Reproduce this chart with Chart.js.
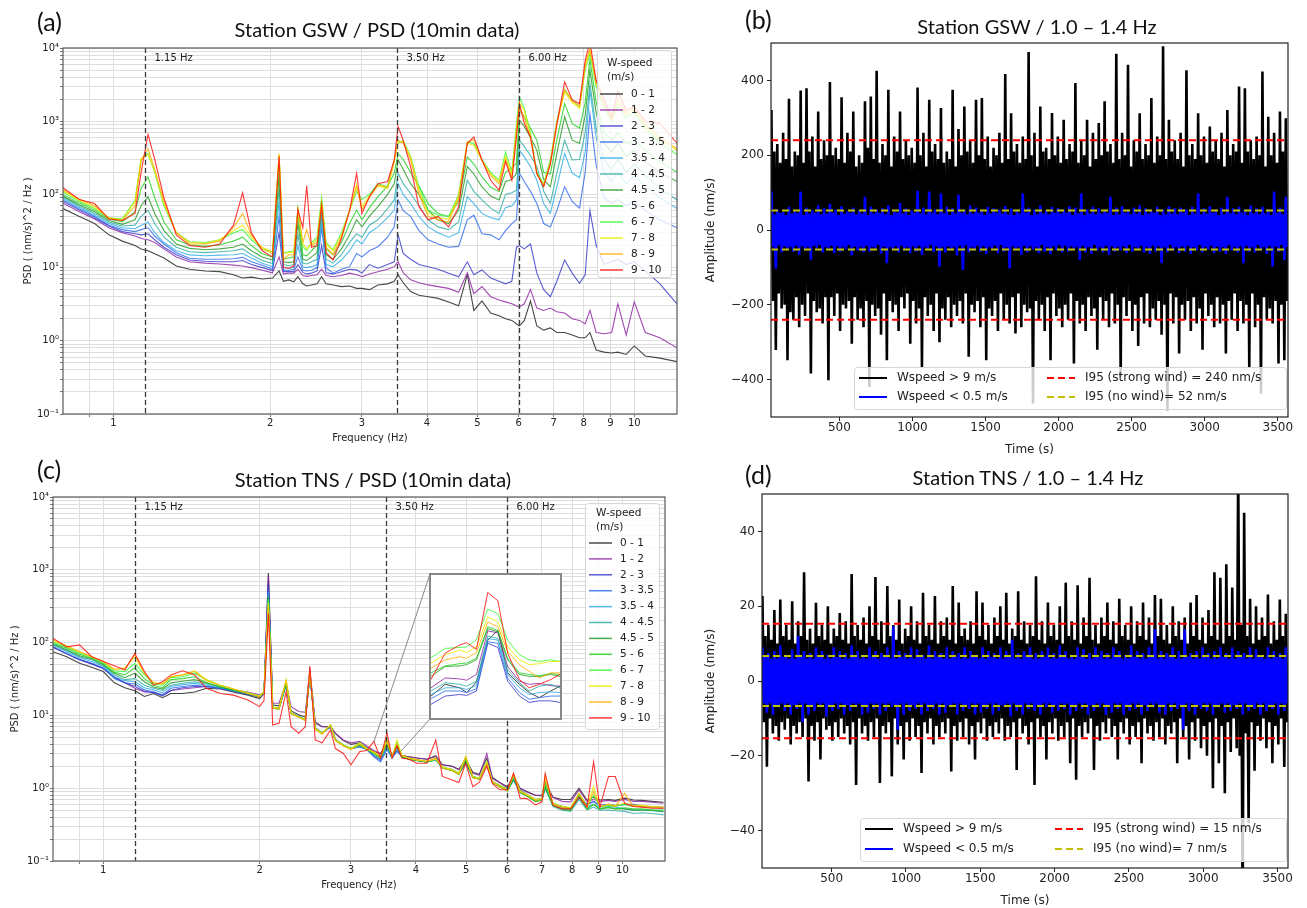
<!DOCTYPE html>
<html>
<head>
<meta charset="utf-8">
<script src="https://cdn.jsdelivr.net/npm/chart.js@4.4.1/dist/chart.umd.min.js"></script>
<style>
  body { margin: 0; background: #fff; width: 1307px; height: 908px; position: relative; overflow: hidden; }
  canvas.c { position: absolute; }
  .lbl { position: absolute; font-family: Lato, "Open Sans", sans-serif; color: #111; white-space: nowrap; line-height: 1; }
  .ttl { transform: translateX(-50%); font-size: 20px; }
  .pan { font-size: 25px; }
  #insetBox { position: absolute; left: 429px; top: 573px; width: 133px; height: 147px; box-sizing: border-box; border: 2px solid #888; background: #fff; }
</style>
</head>
<body>
<canvas id="ca" class="c" style="left:0;top:0" width="690" height="448"></canvas>
<canvas id="cb" class="c" style="left:680px;top:0" width="627" height="461"></canvas>
<canvas id="cc" class="c" style="left:0;top:450px" width="690" height="445"></canvas>
<canvas id="cd" class="c" style="left:680px;top:450px" width="627" height="462"></canvas>
<div id="insetBox"><canvas id="ci" width="129" height="143"></canvas></div>

<div class="lbl pan" style="left:37px;top:9px">(a)</div>
<div class="lbl ttl" style="left:377px;top:19px">Station GSW / PSD (10min data)</div>
<div class="lbl pan" style="left:745px;top:7px">(b)</div>
<div class="lbl ttl" style="left:1037px;top:16px">Station GSW / 1.0 – 1.4 Hz</div>
<div class="lbl pan" style="left:37px;top:457px">(c)</div>
<div class="lbl ttl" style="left:373px;top:469px">Station TNS / PSD (10min data)</div>
<div class="lbl pan" style="left:745px;top:462px">(d)</div>
<div class="lbl ttl" style="left:1028px;top:467px">Station TNS / 1.0 – 1.4 Hz</div>

<script>
// wind-speed classes (m/s) and their colours
const windBins = ['0 - 1', '1 - 2', '2 - 3', '3 - 3.5', '3.5 - 4', '4 - 4.5', '4.5 - 5', '5 - 6', '6 - 7', '7 - 8', '8 - 9', '9 - 10'];
const binColors = ['rgba(40,40,40,0.85)', 'rgba(140,30,160,0.8)', 'rgba(50,50,200,0.8)', 'rgba(40,100,235,0.8)',
  'rgba(40,170,230,0.8)', 'rgba(40,170,160,0.8)', 'rgba(30,150,30,0.8)', 'rgba(40,210,40,0.85)',
  'rgba(60,250,60,0.85)', 'rgba(235,235,0,0.85)', 'rgba(255,175,0,0.85)', 'rgba(255,20,20,0.85)'];

const markerFreqs = [1.15, 3.5, 6.0];
const markerLabels = ['1.15 Hz', '3.50 Hz', '6.00 Hz'];
const freqTicks = [0.9, 1, 2, 3, 4, 5, 6, 7, 8, 9, 10];
const freqLabels = [1, 2, 3, 4, 5, 6, 7, 8, 9, 10];
const freqRange = [0.8, 12.08];
const psdRange = [0.1, 10000];

// ---- station GSW, PSD per wind class
const freqGSW = [0.80,0.86,0.92,0.98,1.04,1.10,1.13,1.165,1.20,1.25,1.32,1.40,1.50,1.60,1.70,1.77,1.84,1.93,2.02,2.08,2.12,2.17,2.22,2.26,2.31,2.35,2.40,2.46,2.51,2.56,2.64,2.74,2.84,2.93,3.00,3.10,3.22,3.36,3.46,3.52,3.60,3.72,3.86,4.02,4.20,4.40,4.60,4.78,4.92,5.10,5.30,5.50,5.66,5.82,5.94,6.02,6.15,6.32,6.50,6.70,6.90,7.10,7.35,7.60,7.85,8.05,8.22,8.45,8.75,9.05,9.30,9.65,10.0,10.5,11.2,12.08];
const gsw0 = [64,50,40,28,23,20,18,17,15.5,13.5, 10.5,9.5,9.0,8.8,8.0,7.2,7.4,7.0,7.2, 9,6.5,6.8,6.4,7.5,6.0,5.6,5.8,6.0,7.5,6.0, 5.8,5.5,5.6,5.2,5.2,5.0,5.8,6.0,6.5,8.0, 6.2,4.7,4.2,4.0,3.8,3.4,3.0,8.0,2.6,3.5,2.4,2.2,2.0,1.9,1.7,1.6, 1.9,3.5,1.6,1.4,1.5,1.3,1.3,1.2,1.1,1.1,1.3, 0.75,0.7,0.68,0.7,0.65,0.85,0.62,0.58,0.52];
const gsw1 = [76,58,46,35,30,27,25,24,22,18, 14,12,11.5,11.2,10.8,10.5,10,9.2,8.5, 14,8.2,8.4,8.4,9.5,7.8,7.6,7.8,8.0,9.5,7.8, 7.5,7.8,8.4,8.0,7.5,8.2,8.8,9.5,10.3,12, 8.5,6.8,6.2,5.8,5.5,5.2,4.6,8.5,4.4,5.5,4.0,3.6,3.4,3.2,3.0,2.9, 3.2,5.0,2.8,2.6,2.8,2.5,2.4,2.0,1.9,1.7,2.6, 1.3,1.25,1.3,3.2,1.2,3.4,1.3,1.1,0.8];
const gsw2 = [80,61,48,37,31,29,28,29,24,19, 15,12.7,12.2,12,12,12.5,11,10,9.1, 30,8.8,8.8,8.8,11,8.6,8.2,8.4,9.0,20,8.5, 8.2,8.8,9.5,9.3,8.4,11,9.8,11,12,28, 15.6,13,11,10.3,9.5,8.4,7.5,12,8.0,9.3,7.2,6.5,6.0,6.5,19,20, 18,21,8.4,5.0,4.0,6.5,12.7,8.4,6.1,8.0,60, 20,11,12,13,11,12,9,6,3.2];
const gsw3 = [84,63,50,38,33,31,33,35,27,21, 16,13.4,13,13,13.2,13.8,12,10.8,9.5, 50,9.2,9.2,9.5,14,9.2,9.0,9.2,10,35,10, 8.4,9.5,10.3,15.6,14,17,19.3,26,36,84, 60,50,32,24,21,19,19.5,45,52,29,28,24,32,40,45,194, 150,110,75,40,36,60,127,80,65,200,1260, 250,90,75,85,70,80,60,45,35];
const gsw4 = [88,66,52,40,35,34,38,42,30,22, 17,14.9,14.5,14.8,15,15.6,13.5,11.5,10.3, 80,10,9.8,10,20,10.2,10,10.3,11,45,11, 10.3,12.7,17,24,21,30,36,48,61,140, 100,75,50,36,30,26,30,93,75,55,48,45,66,70,84,400, 325,240,156,75,55,127,360,195,170,380,2650, 600,200,150,200,140,180,130,90,64];
const gsw5 = [92,69,55,42,37,38,50,61,40,26, 19,16.5,16,16.5,17,18,15,12.5,11.4, 120,11,10.6,11,28,11.5,11.2,12,13,55,13, 11.5,15,22,29,26,38,45,64,84,194, 140,103,70,45,36,33,42,156,110,84,65,55,100,105,114,550, 450,340,240,110,75,194,550,295,300,700,3250, 800,300,220,300,200,260,180,120,84];
const gsw6 = [95,72,58,44,39,45,70,93,55,32, 21,18.3,17.5,18,19,21,17,14,12.7, 180,12,11.7,12,40,13,12.5,14,16,70,15, 13,18,28,45,36,50,68,100,140,295, 220,140,100,61,45,40,60,240,190,127,95,84,150,160,194,1030, 840,600,400,160,127,360,1150,550,500,1200,5000, 1300,500,380,500,330,400,280,200,150];
const gsw7 = [100,76,61,46,42,58,120,174,90,42, 24,20.4,19.5,20.5,23,26,20,15.5,14, 250,13,13.5,14,55,15,14.5,17,20,85,18, 15,22,40,61,45,65,93,130,194,360, 300,200,130,75,55,50,80,325,260,173,125,110,200,230,265,1410, 1150,800,550,200,190,550,1740,930,800,1800,7100, 1800,700,550,700,500,550,400,280,200];
const gsw8 = [108,80,64,48,46,84,300,363,200,70, 30,22.6,22,24,30,33,24,18,16.5, 340,16,16.5,17,65,19,17,22,26,90,22, 17.5,30,60,110,85,100,140,127,295,500, 550,330,127,61,52,50,100,520,500,300,200,156,380,200,900,2150, 1500,700,200,140,300,1000,2700,1950,1580,5000,8500, 3000,1500,1000,1600,1100,1300,800,500,350];
const gsw9 = [112,83,66,48,45,80,310,350,210,75, 30,22,21.5,24,32,38,26,19,16.5, 360,15.5,16,16.5,60,21,18,21,24,80,21, 17,28,60,140,68,95,130,120,280,520, 530,320,115,55,48,46,95,500,470,290,190,150,330,190,800,1800, 1400,650,190,135,280,950,2500,1800,1500,5500,9000, 3300,1600,1050,1800,1200,1400,850,550,400];
const gsw10 = [116,86,70,47,44,70,290,420,220,80, 30,21,21,23,35,55,28,18,15.6, 350,13,15,15,62,22,33,20,22,75,19, 15,26,60,127,62,90,135,125,290,550, 500,300,100,50,45,42,90,520,560,290,180,140,300,170,700,1600, 1100,600,190,130,260,900,2700,1900,1600,6000,9800, 3400,1700,1100,2000,1300,1500,900,600,420];
const gsw11 = [123,85,75,46,44,55,200,660,300,90, 28,20,19,21,38,105,30,17,14, 330,10,9.8,10.5,62,35,131,19,20,70,16, 12.7,25,60,193,55,93,140,150,295,850, 550,240,68,45,50,36,68,500,610,295,156,114,280,156,600,1740, 930,610,193,127,260,900,3450,1950,1740,6800,12000, 3600,2000,1130,2600,1400,1580,1000,930,500];

// ---- station TNS, PSD per wind class
const freqTNS = [0.80,0.85,0.90,0.95,1.00,1.05,1.10,1.15,1.20,1.25,1.30,1.35,1.42,1.50,1.58,1.68,1.78,1.90,2.00,2.04,2.08,2.12,2.18,2.25,2.30,2.38,2.45,2.50,2.56,2.64,2.74,2.80,2.90,3.00,3.12,3.22,3.32,3.42,3.52,3.60,3.68,3.76,3.88,4.02,4.20,4.37,4.50,4.70,4.84,4.99,5.15,5.30,5.48,5.62,5.80,6.01,6.17,6.35,6.55,6.80,7.00,7.10,7.35,7.65,7.95,8.25,8.55,8.80,9.05,9.40,9.69,10.1,10.5,10.9,11.4,12.0];
const tns0 = [75,64,52,46,40,28,24,21.8,18.2,20,17.5,20,20,21,23.6,23,21,19,17, 20,900,13.9,13.5,27,11.5,10.2,9.5,40,7.8,7.0,7.0,5.6,4.5,4.0,4.2,3.6,3.2,3.0,4.2,2.8,4.0,2.8, 2.7,2.6,2.5,2.8,2.1,2.0,1.8,2.5,1.65,1.55,2.6,1.4,1.2,1.05,1.5,1.0,0.9,0.8,0.8,1.2,0.75,0.7,0.7,1.0,0.68,0.75,0.69,0.7,0.68,0.73,0.69,0.68,0.66,0.64];
const tns1 = [88,70,58,51,44,34,28,23.6,21,21,19,22,23,24,25,24,22.5,21,19, 21,850,14.7,14.7,28,13.2,11.3,11,42,8.2,7.0,7.0,5.7,4.6,4.2,4.4,3.8,3.3,3.0,4.0,2.8,3.9,2.8, 2.7,2.6,2.5,2.7,2.1,2.0,1.8,2.4,1.6,1.5,3.0,1.35,1.2,1.0,1.4,1.0,0.88,0.8,0.78,1.1,0.75,0.66,0.65,0.95,0.66,0.7,0.66,0.68,0.66,0.7,0.66,0.66,0.64,0.62];
const tns2 = [86,70,58,51,44,33,28,25,21.5,20.5,18.5,22,24,25,25,23.5,21.5,19.5,18, 20,650,13,12.5,26,10.8,9.8,8.8,36,6.8,5.8,6.8,4.7,3.9,3.5,3.7,3.4,2.8,2.4,3.5,2.6,3.3,2.7, 2.5,2.45,2.3,2.5,1.9,1.8,1.6,2.2,1.45,1.35,2.2,1.23,1.1,0.95,1.3,0.95,0.82,0.7,0.72,1.0,0.62,0.56,0.53,0.8,0.6,0.66,0.58,0.6,0.58,0.6,0.6,0.57,0.56,0.55];
const tns3 = [87,71,59,52,45,32,28,27,22.4,21,19,23.6,25,26,25,23.5,21.5,19.5,18, 20,550,12.8,12.5,26,10.7,9.6,8.7,35,6.6,5.7,7.0,4.6,3.9,3.5,3.7,3.4,2.7,2.3,3.4,2.6,3.2,2.7, 2.5,2.4,2.3,2.45,1.9,1.8,1.6,2.2,1.45,1.37,2.2,1.23,1.1,0.95,1.3,0.95,0.8,0.69,0.72,1.0,0.62,0.56,0.53,0.75,0.6,0.65,0.58,0.6,0.58,0.6,0.58,0.56,0.55,0.53];
const tns4 = [92,75,62,55,47,34,30,29,24,22.4,20.5,25,26.5,27.5,26,24,22,20,18.2, 20.5,500,12.8,12.5,27,10.7,9.6,8.7,36,6.6,5.7,7.2,4.6,3.9,3.5,3.7,3.4,2.9,2.5,3.6,2.6,3.5,2.7, 2.5,2.4,2.3,2.45,1.9,1.8,1.6,2.3,1.45,1.37,2.2,1.23,1.1,0.95,1.3,0.9,0.8,0.68,0.7,1.0,0.6,0.54,0.52,0.75,0.56,0.6,0.55,0.56,0.55,0.52,0.5,0.5,0.49,0.47];
const tns5 = [93,78,64,58,48,36,31,32,26,23.6,22,26,27.6,29,27,24.5,22,20,18.2, 20.5,450,12.5,12.3,27,10.7,9.6,8.7,36,6.6,5.7,7.2,4.6,3.9,3.5,3.8,3.4,3.0,2.6,3.8,2.7,3.6,2.7, 2.5,2.4,2.3,2.45,1.9,1.75,1.55,2.3,1.4,1.33,2.2,1.2,1.05,0.92,1.3,0.88,0.78,0.66,0.68,1.0,0.56,0.5,0.48,0.7,0.5,0.55,0.5,0.5,0.49,0.48,0.45,0.46,0.45,0.43];
const tns6 = [96,80,66,60,50,38,33,38,29,24.5,23,28,29.5,31,28,24.5,22,20,18.2, 20.5,420,12.5,12.3,27,10.7,9.6,8.7,37,6.6,5.7,7.3,4.6,3.9,3.5,3.9,3.4,3.0,2.6,4.0,2.7,3.7,2.7, 2.5,2.4,2.3,2.5,1.9,1.75,1.55,2.3,1.4,1.33,2.2,1.2,1.05,0.92,1.35,0.88,0.78,0.66,0.7,1.05,0.58,0.52,0.5,0.75,0.52,0.6,0.52,0.54,0.52,0.52,0.5,0.5,0.5,0.48];
const tns7 = [98,84,69,61,51,39,36,45,32,26,24,31,32,34,28,25,22.5,20,18.2, 21,400,12.5,12.3,28,10.7,9.6,8.7,38,6.6,5.7,7.4,4.6,3.9,3.5,4.0,3.4,3.0,2.6,4.3,2.7,3.9,2.7, 2.5,2.4,2.3,2.5,1.9,1.75,1.55,2.5,1.4,1.33,2.2,1.2,1.05,0.92,1.4,0.88,0.78,0.66,0.7,1.1,0.58,0.52,0.5,0.8,0.52,0.6,0.52,0.55,0.52,0.54,0.52,0.52,0.5,0.5];
const tns8 = [103,87,72,63,53,41,40,52,36,27.5,26,33,34,38,31,26,23,20.5,18.5, 21,380,13,12.5,30,10.7,9.6,8.7,39,6.6,5.7,7.4,4.6,3.9,3.5,4.2,3.5,3.1,2.7,4.9,2.7,4.3,2.8, 2.6,2.45,2.35,2.5,1.95,1.8,1.6,2.7,1.45,1.37,2.3,1.23,1.1,0.95,1.45,0.92,0.82,0.7,0.72,1.2,0.62,0.56,0.54,0.85,0.56,0.8,0.56,0.58,0.56,0.6,0.56,0.56,0.55,0.54];
const tns9 = [107,90,75,64,55,42,45,63,38,28,27,34,36,41,31,26,23,20.5,18.5, 21,350,13,12.5,31,10.7,9.6,8.7,40,6.6,5.7,7.4,4.6,3.9,3.5,4.2,3.5,3.1,2.7,4.6,2.7,4.6,2.8, 2.6,2.45,2.35,2.5,1.95,1.8,1.6,2.7,1.45,1.37,2.3,1.23,1.1,0.95,1.5,0.92,0.82,0.7,0.72,1.5,0.62,0.56,0.54,0.85,0.56,1.05,0.56,0.6,0.58,0.62,0.58,0.58,0.56,0.55];
const tns10 = [110,90,75,64,55,43,44,68,38,28,27,34,36,40,30,26,23,20,18, 21,320,12.5,12.3,30,10.5,9.4,8.5,40,6.4,5.5,7.3,4.5,3.8,3.4,4.0,3.4,3.2,2.7,4.4,2.7,4.0,2.8, 2.6,2.45,2.35,2.6,1.9,1.75,1.55,2.7,1.4,1.33,2.2,1.2,1.05,0.92,1.6,0.9,0.8,0.68,0.7,1.3,0.6,0.55,0.53,0.85,0.55,0.9,0.55,0.6,0.56,0.85,0.56,0.56,0.55,0.54];
const tns11 = [115,87,93,64,55,48,42,71,40,26,29,36,41,36,23.6,20,19,16.3,13.2, 16,250,7.4,7.8,21,7.0,5.7,7.0,47,4.6,4.2,6.3,3.5,3.0,2.1,3.2,3.3,4.4,2.6,5.8,2.6,3.8,2.6, 2.5,2.2,2.2,4.6,1.45,1.3,1.2,2.2,1.05,1.2,2.0,1.15,0.95,0.95,1.6,0.73,0.72,0.59,0.65,1.6,0.58,0.52,0.52,0.75,0.55,2.3,0.55,1.45,1.45,0.62,0.56,0.55,0.53,0.53];

// ---- TNS inset around the 3.5 Hz peak
const insetFreq = [3.402,3.437,3.473,3.490,3.514,3.542,3.567,3.591,3.620,3.644,3.669,3.697,3.720];
const insetRange = [2.2, 6.7];
const inset0 = [2.89,3.26,3.15,3.00,3.33,4.65,4.96,3.62,3.26,3.00,2.84,3.05,3.20];
const inset1 = [3.15,3.46,3.43,3.39,3.57,4.94,4.88,3.82,3.36,3.26,3.29,3.22,3.20];
const inset2 = [2.63,2.89,2.94,2.91,3.05,4.55,4.42,3.36,2.89,2.69,2.74,2.74,2.69];
const inset3 = [2.81,3.05,3.05,3.00,3.12,4.60,4.55,3.46,3.00,2.79,2.84,2.89,2.89];
const inset4 = [2.94,3.15,3.15,3.10,3.22,4.70,4.65,3.57,3.15,2.94,3.00,3.02,3.00];
const inset5 = [3.05,3.31,3.26,3.20,3.36,4.78,4.70,3.72,3.31,3.05,3.20,3.26,3.15];
const inset6 = [3.51,3.82,3.84,3.88,4.03,5.01,4.91,4.03,3.57,3.51,3.51,3.57,3.51];
const inset7 = [3.62,3.84,3.91,3.93,4.08,5.07,4.96,4.08,3.62,3.57,3.53,3.60,3.57];
const inset8 = [4.10,4.39,4.42,4.44,4.67,5.63,5.48,4.65,4.19,4.03,3.98,4.03,3.98];
const inset9 = [3.93,4.19,4.34,4.26,4.44,5.38,5.22,4.44,4.03,3.88,3.91,3.98,3.98];
const inset10 = [3.77,4.03,4.13,4.08,4.26,5.22,5.07,4.29,3.88,3.67,3.46,3.62,3.62];
const inset11 = [3.41,4.24,4.50,4.57,4.36,6.15,5.89,4.24,3.41,3.15,3.26,3.41,3.57];
const insetZoom = { fLo: 3.32, fHi: 3.74, vLo: 3.2, vHi: 4.3 };

// ---- 1.0-1.4 Hz filtered records (peak values), one sample every tStep seconds
const tStart = 35, tStep = 10;
const timeRange = [32, 3570];
const timeTicks = [500, 1000, 1500, 2000, 2500, 3000, 3500];
const ampTicksB = [-400, -200, 0, 200, 400];
const ampTicksD = [-40, -20, 0, 20, 40];
const tsLabelsB = ['Wspeed > 9 m/s', 'Wspeed < 0.5 m/s', 'I95 (strong wind) = 240 nm/s', 'I95 (no wind)= 52 nm/s'];
const tsLabelsD = ['Wspeed > 9 m/s', 'Wspeed < 0.5 m/s', 'I95 (strong wind) = 15 nm/s', 'I95 (no wind)= 7 nm/s'];
const i95B = [240, 52];
const i95D = [15.3, 6.7];

const strongB = [
  321,-190,210,-321,230,-170,180,-210,260,-200,190,-348,351,-220,170,-240,210,-180,200,-260,
  373,-200,180,-230,379,-170,210,-384,250,-190,170,-220,317,-210,190,-250,240,-180,200,-402,
  396,-180,200,-230,220,-170,190,-270,355,-200,180,-210,260,-190,210,-304,317,-180,170,-240,
  200,-210,180,-260,344,-190,220,-420,357,-200,190,-230,426,-210,180,-280,230,-170,200,-348,
  375,-190,170,-220,250,-200,210,-270,317,-180,190,-210,240,-170,200,-304,220,-190,180,-250,
  381,-210,200,-366,260,-180,170,-230,348,-200,210,-270,230,-170,190,-300,326,-210,180,-240,
  210,-180,190,-260,375,-200,170,-230,270,-190,200,-250,330,-170,210,-339,240,-200,180,-220,
  348,-190,200,-260,353,-180,190,-348,250,-210,170,-230,220,-190,200,-270,260,-170,180,-240,
  417,-200,190,-250,312,-180,210,-277,230,-170,180,-260,250,-200,190,-220,476,-210,200,-464,
  260,-190,170,-240,330,-200,210,-270,220,-180,190,-348,313,-170,200,-230,250,-210,180,-260,
  295,-200,190,-240,230,-170,210,-357,393,-190,180,-250,240,-200,200,-270,295,-180,170,-230,
  260,-210,190,-320,286,-180,200,-240,344,-190,210,-260,230,-170,180,-250,471,-200,190,-393,
  260,-180,200,-230,442,-190,170,-270,240,-200,210,-310,312,-180,190,-250,230,-170,200,-260,
  353,-210,180,-240,250,-190,200,-280,491,-200,190,-482,295,-170,210,-250,240,-180,190,-330,
  260,-200,170,-240,427,-190,200,-270,230,-180,190,-250,312,-210,200,-320,250,-170,180,-230,
  277,-200,210,-260,240,-180,190,-250,260,-200,170,-330,321,-190,200,-240,230,-170,210,-270,
  384,-190,180,-250,379,-200,210,-366,240,-170,190,-260,250,-200,200,-438,424,-180,170,-240,
  303,-210,200,-250,260,-190,180,-357,317,-200,210,-348,299,-190];
const calmB = [
  103,-45,42,-103,55,-40,46,-60,48,-44,40,-52,62,-46,44,-58,50,-42,46,-66,
  103,-44,40,-55,60,-46,44,-80,52,-42,46,-48,66,-40,42,-60,58,-46,44,-50,
  70,-42,46,-62,55,-44,40,-58,64,-46,44,-52,50,-40,46,-68,60,-44,42,-55,
  52,-46,44,-60,89,-42,40,-58,62,-46,44,-50,55,-40,46,-64,58,-44,42,-89,
  66,-46,40,-52,50,-44,46,-60,72,-42,44,-55,58,-46,40,-62,52,-44,46,-58,
  105,-42,44,-66,60,-46,42,-50,103,-40,46,-58,55,-44,42,-98,98,-46,44,-60,
  62,-44,40,-52,58,-46,44,-68,94,-42,46,-107,55,-40,42,-60,66,-46,44,-55,
  60,-42,46,-58,52,-44,40,-64,62,-46,44,-50,58,-42,46,-62,55,-40,44,-58,
  64,-46,42,-103,58,-44,40,-55,50,-46,44,-66,98,-42,46,-60,60,-44,40,-52,
  55,-46,42,-62,66,-40,44,-58,52,-46,42,-64,62,-44,46,-55,58,-40,44,-60,
  55,-42,46,-58,64,-44,40,-52,60,-46,44,-80,98,-42,40,-60,55,-46,44,-64,
  62,-40,42,-55,58,-46,44,-60,52,-42,46,-66,89,-44,40,-58,60,-46,42,-55,
  64,-44,46,-62,55,-40,42,-58,60,-46,44,-52,66,-42,40,-60,58,-46,44,-64,
  52,-42,46,-58,62,-44,40,-89,55,-46,42,-60,64,-40,44,-55,58,-46,42,-62,
  60,-44,46,-58,55,-42,40,-64,62,-46,44,-55,98,-40,42,-60,58,-46,44,-52,
  64,-42,46,-62,55,-44,40,-58,60,-46,42,-64,89,-40,44,-55,58,-46,42,-60,
  62,-44,46,-89,55,-42,40,-58,66,-46,44,-60,58,-40,42,-55,62,-46,44,-64,
  55,-42,40,-98,103,-44,46,-58,60,-40,42,-80,89,-46];
const strongD = [
  22.7,-11,12,-22.9,15,-10,11,-14,19,-12,10,-16,21.8,-11,12,-13,15,-10,11,-17,
  21.3,-12,10,-14,16,-11,12,-15,29.1,-10,11,-26.9,14,-12,10,-16,20.9,-11,12,-21,
  15,-10,11,-13,20,-12,10,-16,14,-11,12,-15,18.2,-10,11,-14,16,-12,10,-17,
  28.6,-11,12,-27.8,15,-10,11,-14,17,-12,10,-16,20,-11,12,-15,27.8,-10,11,-27.3,
  16,-12,10,-14,25.4,-11,12,-25.5,15,-10,11,-17,21.8,-12,10,-21,14,-11,12,-16,
  20,-10,11,-15,16,-12,10,-24.6,23.6,-11,12,-14,15,-10,11,-17,22.7,-12,10,-15,
  16,-11,12,-14,17,-10,11,-24.2,25.4,-12,10,-16,21,-11,12,-15,14,-10,11,-17,
  16,-12,10,-21,24,-11,12,-14,21,-10,11,-16,15,-12,10,-15,17,-11,12,-14,
  20,-10,11,-16,23.6,-12,10,-15,14,-11,12,-23.8,24,-10,11,-14,16,-12,10,-17,
  15,-11,12,-27.8,28,-10,11,-15,16,-12,10,-21,21,-11,12,-14,15,-10,11,-16,
  20,-12,10,-15,26.3,-11,12,-22,16,-10,11,-26.4,25.6,-12,10,-15,17,-11,12,-14,
  27.6,-10,11,-23.8,15,-12,10,-16,17,-11,12,-14,21,-10,11,-15,16,-12,10,-21,
  22,-11,12,-14,15,-10,11,-17,20,-12,10,-15,16,-11,12,-22,21,-10,11,-14,
  17,-12,10,-16,23,-11,12,-15,22,-10,11,-17,15,-12,10,-14,20,-11,12,-22,
  16,-10,11,-15,17,-12,10,-21,21,-11,12,-16,23,-10,11,-18,17,-12,10,-20,
  19,-11,12,-28.7,29.1,-10,11,-22,27.6,-12,10,-30,31.2,-11,12,-19,25,-10,11,-18,
  58,-20,15,-62,45,-14,12,-38,22,-11,10,-24,20,-12,11,-16,17,-10,12,-18,
  23.1,-11,10,-22,16,-12,11,-17,21.8,-10,12,-23,18,-11];
const calmD = [
  9,-6,6.5,-8.5,7.5,-6,6,-9,8,-6.5,6,-7,9.5,-6,6.5,-8,7,-6,6,-9,
  8.5,-6.5,6,-7.5,12,-6,6.5,-11,8,-6,6,-9,7.5,-6.5,6,-8,9,-6,6.5,-7,
  8,-6,6,-9.5,7,-6.5,6,-8,9,-6,6.5,-7.5,8,-6,6,-9,7.5,-6.5,6,-8,
  9.5,-6,6.5,-7,8,-6,6,-9,7,-6.5,6,-8.5,9,-6,6.5,-7.5,8,-6,6,-9,
  7.5,-6,6.5,-8,9,-6,6,-7,14.6,-6.5,6,-13,8,-6,6.5,-9,7.5,-6,6,-8,
  9,-6.5,6,-7.5,8.5,-6,6.5,-9,7,-6,6,-8,9.5,-6.5,6,-7.5,8,-6,6.5,-9,
  7.5,-6,6,-8.5,9,-6.5,6,-7,8,-6,6.5,-9,7.5,-6,6,-8,9,-6.5,6,-7.5,
  8,-6,6.5,-9,7,-6,6,-8.5,9,-6.5,6,-7.5,8,-6,6.5,-9,7.5,-6,6,-8,
  9,-6.5,6,-7,8,-6,6.5,-9.5,11,-6,6,-8,7.5,-6.5,6,-9,8,-6,6.5,-7.5,
  9,-6,6,-8,7.5,-6.5,6,-9,8,-6,6.5,-7,9,-6,6,-8.5,7.5,-6.5,6,-8,
  9.5,-6,6.5,-7.5,8,-6,6,-9,7,-6.5,6,-8,9,-6,6.5,-7.5,8.5,-6,6,-9,
  7.5,-6.5,6,-8,9,-6,6.5,-7,8,-6,6,-9,7.5,-6.5,6,-8.5,9,-6,6.5,-7.5,
  8,-6,6,-9,7,-6.5,6,-8,9.5,-6,6.5,-7.5,8,-6,6,-9,7.5,-6.5,6,-8,
  9,-6,6.5,-7,13.8,-6,6,-8.5,8,-6.5,6,-9,7.5,-6,6.5,-8,9,-6,6,-7.5,
  8,-6.5,6,-13,13.8,-6,6.5,-8,7.5,-6,6,-9,8,-6.5,6,-7.5,9,-6,6.5,-8,
  7.5,-6,6,-9,8,-6.5,6,-7,9,-6,6.5,-8.5,7.5,-6,6,-8,9,-6.5,6,-7.5,
  8,-6,6.5,-9,7.5,-6,6,-8,9,-6.5,6,-7.5,8.5,-6,6.5,-9,7,-6,6,-8,
  9,-6.5,6,-7.5,8,-6,6.5,-9,7.5,-6,6,-8,9,-6];

// ---------------------------------------------------------------
const supMap = { '-': '⁻', '0': '⁰', '1': '¹', '2': '²', '3': '³', '4': '⁴' };
const isDecade = v => Math.abs(Math.log10(v) - Math.round(Math.log10(v))) < 1e-9;
const psdGrid = [];
for (let e = -1; e <= 3; e++) for (let m = 1; m <= 9; m++) psdGrid.push(m * Math.pow(10, e));
psdGrid.push(10000);

const framePlugin = {
  id: 'frame',
  afterDraw(chart, args, o) {
    const { ctx, chartArea: a } = chart;
    ctx.save();
    ctx.strokeStyle = o.color; ctx.lineWidth = o.width;
    ctx.strokeRect(a.left, a.top, a.right - a.left, a.bottom - a.top);
    ctx.restore();
  }
};

const markerPlugin = {
  id: 'markers',
  afterDatasetsDraw(chart) {
    const { ctx, chartArea: a, scales: { x } } = chart;
    ctx.save();
    markerFreqs.forEach((f, i) => {
      const px = Math.round(x.getPixelForValue(f)) + 0.5;
      ctx.strokeStyle = '#3a3a3a'; ctx.lineWidth = 1.3; ctx.setLineDash([5, 3]);
      ctx.beginPath(); ctx.moveTo(px, a.top); ctx.lineTo(px, a.bottom); ctx.stroke();
      ctx.setLineDash([]);
      ctx.fillStyle = '#222'; ctx.font = '10px "DejaVu Sans"'; ctx.textBaseline = 'middle';
      ctx.fillText(markerLabels[i], px + 9, a.top + 10);
    });
    ctx.restore();
  }
};

const insetLinks = {
  id: 'insetLinks',
  afterDatasetsDraw(chart, args, o) {
    if (!o.corners) return;
    const { ctx, scales: { x, y } } = chart;
    const ends = [[insetZoom.fLo, insetZoom.vHi], [insetZoom.fHi, insetZoom.vLo]];
    ctx.save();
    ctx.strokeStyle = '#8a8a8a'; ctx.lineWidth = 1;
    o.corners.forEach((c, i) => {
      ctx.beginPath(); ctx.moveTo(c[0], c[1]);
      ctx.lineTo(x.getPixelForValue(ends[i][0]), y.getPixelForValue(ends[i][1])); ctx.stroke();
    });
    ctx.restore();
  }
};

const psdLegend = {
  id: 'psdLegend',
  afterDraw(chart, args, o) {
    const { ctx } = chart;
    ctx.save();
    ctx.beginPath(); ctx.roundRect(o.x + 0.5, o.y + 0.5, o.w, o.h, 3);
    ctx.fillStyle = 'rgba(255,255,255,0.8)'; ctx.fill();
    ctx.strokeStyle = '#d6d6d6'; ctx.lineWidth = 1; ctx.stroke();
    ctx.font = '10.5px "DejaVu Sans"'; ctx.fillStyle = '#222'; ctx.textBaseline = 'middle';
    ['W-speed', '(m/s)'].forEach((t, k) => ctx.fillText(t, o.titleX, o.titleY + k * 14));
    chart.data.datasets.forEach((ds, i) => {
      const y = o.rowY + i * o.rowH;
      ctx.strokeStyle = ds.borderColor; ctx.lineWidth = 1.5;
      ctx.beginPath(); ctx.moveTo(o.lineX, y); ctx.lineTo(o.lineX + 23, y); ctx.stroke();
      ctx.fillText(ds.label, o.textX, y);
    });
    ctx.restore();
  }
};

const tsLegend = {
  id: 'tsLegend',
  afterDraw(chart, args, o) {
    const { ctx, chartArea: a } = chart;
    const x0 = a.right - o.right - o.w, y0 = a.bottom - o.bottom - o.h;
    ctx.save();
    ctx.beginPath(); ctx.roundRect(x0 + 0.5, y0 + 0.5, o.w, o.h, 3);
    ctx.fillStyle = 'rgba(255,255,255,0.8)'; ctx.fill();
    ctx.strokeStyle = '#d6d6d6'; ctx.lineWidth = 1; ctx.stroke();
    ctx.font = '12px "DejaVu Sans"'; ctx.textBaseline = 'middle'; ctx.fillStyle = '#222';
    chart.data.datasets.forEach((ds, i) => {
      const lx = x0 + o.cols[Math.floor(i / 2)], ly = y0 + o.rows[i % 2];
      ctx.strokeStyle = ds.borderColor; ctx.lineWidth = 2; ctx.setLineDash(ds.borderDash || []);
      ctx.beginPath(); ctx.moveTo(lx, ly); ctx.lineTo(lx + 28, ly); ctx.stroke();
      ctx.setLineDash([]);
      ctx.fillText(ds.label, lx + 38, ly);
    });
    ctx.restore();
  }
};

function psdChart(id, freqs, series, o) {
  return new Chart(document.getElementById(id), {
    type: 'line',
    data: {
      datasets: series.map((vals, i) => ({
        label: windBins[i],
        data: freqs.map((f, k) => ({ x: f, y: vals[k] })),
        borderColor: binColors[i], borderWidth: 1.1, pointRadius: 0, tension: 0,
        order: series.length - 1 - i
      }))
    },
    options: {
      responsive: false, animation: false, events: [],
      layout: { padding: o.padding },
      plugins: {
        legend: { display: false }, tooltip: { enabled: false },
        frame: { color: '#5a5a5a', width: 1.2 },
        psdLegend: o.legend,
        insetLinks: { corners: o.links }
      },
      scales: {
        x: {
          type: 'logarithmic', min: freqRange[0], max: freqRange[1],
          afterBuildTicks: s => { s.ticks = freqTicks.map(v => ({ value: v })); },
          afterFit: s => { s.height = o.xh; },
          border: { display: false },
          grid: { color: '#dedede', tickColor: '#777', tickLength: 3 },
          ticks: { autoSkip: false, maxRotation: 0, padding: 0, color: '#222', font: { family: 'DejaVu Sans', size: 10 },
            callback: v => freqLabels.includes(v) ? String(v) : '' },
          title: { display: true, text: 'Frequency (Hz)', color: '#222', font: { family: 'DejaVu Sans', size: 10 } }
        },
        y: {
          type: 'logarithmic', min: psdRange[0], max: psdRange[1],
          afterBuildTicks: s => { s.ticks = psdGrid.map(v => ({ value: v })); },
          afterFit: s => { s.width = o.yw; },
          border: { display: false },
          grid: { color: '#dedede', tickColor: '#777', tickLength: 3 },
          ticks: { autoSkip: false, padding: 1, color: '#222', font: { family: 'DejaVu Sans', size: 10 },
            callback: v => isDecade(v) ? '10' + String(Math.round(Math.log10(v))).split('').map(c => supMap[c]).join('') : '' },
          title: { display: true, text: 'PSD ( (nm/s)^2 / Hz )', color: '#222', font: { family: 'DejaVu Sans', size: 10 } }
        }
      }
    },
    plugins: [markerPlugin, insetLinks, framePlugin, psdLegend]
  });
}

function tsChart(id, strong, calm, thr, labels, ampRange, ampTicks, o) {
  const pts = arr => arr.map((v, i) => ({ x: tStart + i * tStep, y: v }));
  const band = v => [{ x: timeRange[0], y: v }, { x: timeRange[1], y: v }, { x: timeRange[1], y: null },
    { x: timeRange[0], y: -v }, { x: timeRange[1], y: -v }];
  return new Chart(document.getElementById(id), {
    type: 'line',
    data: {
      datasets: [
        { label: labels[0], data: pts(strong), borderColor: '#000000', borderWidth: 2.6, pointRadius: 0, order: 3 },
        { label: labels[1], data: pts(calm), borderColor: '#0000ff', borderWidth: 2.6, pointRadius: 0, order: 2 },
        { label: labels[2], data: band(thr[0]), borderColor: '#ff0000', borderDash: [7, 4], borderWidth: 2, pointRadius: 0, spanGaps: false, order: 1 },
        { label: labels[3], data: band(thr[1]), borderColor: '#bfbf00', borderDash: [7, 4], borderWidth: 2, pointRadius: 0, spanGaps: false, order: 0 }
      ]
    },
    options: {
      responsive: false, animation: false, events: [],
      layout: { padding: o.padding },
      plugins: {
        legend: { display: false }, tooltip: { enabled: false },
        frame: { color: '#222', width: 1.2 },
        tsLegend: o.legend
      },
      scales: {
        x: {
          type: 'linear', min: timeRange[0], max: timeRange[1],
          afterBuildTicks: s => { s.ticks = timeTicks.map(v => ({ value: v })); },
          afterFit: s => { s.height = o.xh; },
          border: { display: false },
          grid: { drawOnChartArea: false, color: '#222', tickLength: 4 },
          ticks: { padding: 0, maxRotation: 0, color: '#222', font: { family: 'DejaVu Sans', size: 12 },
            callback: v => String(v) },
          title: { display: true, text: 'Time (s)', color: '#222', font: { family: 'DejaVu Sans', size: 12 } }
        },
        y: {
          type: 'linear', min: ampRange[0], max: ampRange[1],
          afterBuildTicks: s => { s.ticks = ampTicks.map(v => ({ value: v })); },
          afterFit: s => { s.width = o.yw; },
          border: { display: false },
          grid: { drawOnChartArea: false, color: '#222', tickLength: 4 },
          ticks: { padding: 3, color: '#222', font: { family: 'DejaVu Sans', size: 12 },
            callback: v => String(v).replace('-', '\u2212') },
          title: { display: true, text: 'Amplitude (nm/s)', color: '#222', font: { family: 'DejaVu Sans', size: 12 } }
        }
      }
    },
    plugins: [framePlugin, tsLegend]
  });
}

const gswSeries = [gsw0, gsw1, gsw2, gsw3, gsw4, gsw5, gsw6, gsw7, gsw8, gsw9, gsw10, gsw11];
const tnsSeries = [tns0, tns1, tns2, tns3, tns4, tns5, tns6, tns7, tns8, tns9, tns10, tns11];
const insetSeries = [inset0, inset1, inset2, inset3, inset4, inset5, inset6, inset7, inset8, inset9, inset10, inset11];

psdChart('ca', freqGSW, gswSeries, {
  padding: { left: 18, top: 48, right: 13, bottom: 0 }, yw: 45, xh: 34,
  legend: { x: 597, y: 50, w: 74, h: 227, titleX: 607, titleY: 63, rowY: 94, rowH: 16, lineX: 600, textX: 631 }
});

psdChart('cc', freqTNS, tnsSeries, {
  padding: { left: 5, top: 47, right: 25, bottom: 0 }, yw: 48, xh: 34,
  legend: { x: 585, y: 53, w: 74, h: 226, titleX: 596, titleY: 63, rowY: 93, rowH: 15.9, lineX: 589, textX: 620 },
  links: [[430, 124], [430, 269]]
});

new Chart(document.getElementById('ci'), {
  type: 'line',
  data: {
    datasets: insetSeries.map((vals, i) => ({
      label: windBins[i],
      data: insetFreq.map((f, k) => ({ x: f, y: vals[k] })),
      borderColor: binColors[i], borderWidth: 1, pointRadius: 0, order: insetSeries.length - 1 - i
    }))
  },
  options: {
    responsive: false, animation: false, events: [],
    plugins: { legend: { display: false }, tooltip: { enabled: false } },
    scales: {
      x: { type: 'linear', display: false, min: insetFreq[0], max: insetFreq[insetFreq.length - 1] },
      y: { type: 'linear', display: false, min: insetRange[0], max: insetRange[1] }
    }
  }
});

tsChart('cb', strongB, calmB, i95B, tsLabelsB, [-500, 500], ampTicksB, {
  padding: { left: 20, top: 43, right: 19, bottom: 0 }, yw: 71, xh: 44,
  legend: { w: 432, h: 42, right: 2, bottom: 8, cols: [5, 193], rows: [11, 30] }
});

tsChart('cd', strongD, calmD, i95D, tsLabelsD, [-50, 50], ampTicksD, {
  padding: { left: 20, top: 44, right: 19, bottom: 0 }, yw: 62, xh: 44,
  legend: { w: 426, h: 43, right: 2, bottom: 7, cols: [5, 195], rows: [11, 31] }
});
</script>
</body>
</html>
